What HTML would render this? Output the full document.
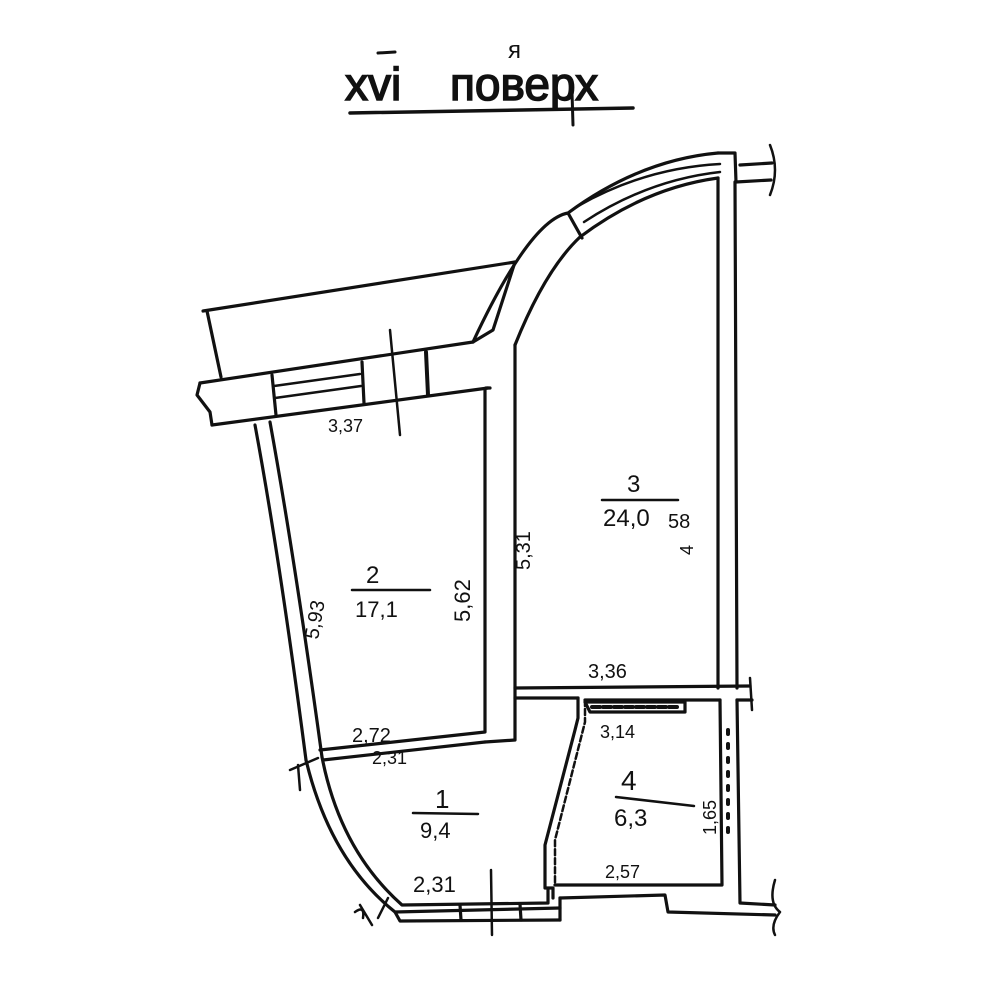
<!DOCTYPE html>
<html><head><meta charset="utf-8"><style>
html,body{margin:0;padding:0;background:#fff;}
svg{display:block}
text{font-family:"Liberation Sans",sans-serif;fill:#111;}
</style></head><body>
<svg width="1000" height="1000" viewBox="0 0 1000 1000" xmlns="http://www.w3.org/2000/svg">
<g fill="none" stroke="#111" stroke-width="3.2" stroke-linecap="round" stroke-linejoin="round">
<!-- title underline -->
<path d="M350 113 L633 108" stroke-width="3.5"/>
<path d="M572 92 L573 125" stroke-width="3"/>
<path d="M378 53 L395 52" stroke-width="3"/>
<!-- balcony -->
<path d="M203 311 L515 262"/>
<path d="M207 311 L221 377"/>
<path d="M515 262 L493 330 L473 342"/>
<!-- wall band -->
<path d="M200 383 L473 342"/>
<path d="M200 383 L197 395 L210 412 L212 425"/>
<path d="M212 425 L488 388"/>
<path d="M272 375 L276 415"/>
<path d="M362 362 L364 403"/>
<path d="M274 386 L360 374 M275 398 L361 386" stroke-width="2.5"/>
<path d="M426 352 L428 395" stroke-width="4"/>
<path d="M390 330 L400 435" stroke-width="2.5"/>
<!-- room2 left wall -->
<path d="M255 425 Q280 560 306 760"/>
<path d="M270 422 Q295 560 322 757"/>
<!-- room2/3 wall -->
<path d="M485 390 L485 732 L320 750"/>
<path d="M485 742 L323 760"/>
<path d="M515 345 L515 740 L485 742"/>
<path d="M486 388 L490 388"/>
<!-- arc wall outer -->
<path d="M473 342 Q530 220 568 213 Q640 160 718 153"/>
<path d="M515 345 Q545 270 580 237 Q645 188 718 178"/>
<path d="M568 213 L582 238"/>
<path d="M578 206 Q645 168 720 164 M584 222 Q648 180 720 172" stroke-width="2.5"/>
<!-- right wall -->
<path d="M718 153 L735 153 L736 182 L771 180"/>
<path d="M740 165 L772 163"/>
<path d="M770 145 Q780 170 770 195" stroke-width="2.5"/>
<path d="M718 178 L718 688"/>
<path d="M735 182 L737 688"/>
<!-- horizontal 3/4 wall -->
<path d="M515 688 L750 686"/>
<path d="M515 698 L578 698 M585 700 L720 700 M737 700 L752 700"/>
<path d="M750 678 L752 710" stroke-width="2.5"/>
<path d="M585 702 L685 702 L685 712 L590 712 Z"/>
<path d="M592 707 H680" stroke-dasharray="8 3" stroke-width="4"/>
<path d="M720 700 L722 885 L555 885"/>
<path d="M737 700 L740 903 L775 905"/>
<path d="M775 880 Q768 903 780 912 Q770 925 775 935" stroke-width="2.5"/>
<!-- room4 left wall -->
<path d="M578 698 L578 718 L575 730 L545 845 L545 888 L553 888 L553 898"/>
<path d="M585 700 L585 722 L555 840 L555 885" stroke-dasharray="6 3" stroke-width="2.5"/>
<!-- room 1 curved wall -->
<path d="M306 760 Q330 860 395 912 L560 908"/>
<path d="M322 757 Q340 850 402 905 L548 903 L548 890"/>
<path d="M560 898 L665 895 L668 912 L775 915"/>
<path d="M395 912 L400 921 L560 920"/>
<path d="M560 920 L560 898"/>
<path d="M460 905 L461 920 M520 904 L521 920"/>
<path d="M491 870 L492 935" stroke-width="2.5"/>
<path d="M360 905 L372 925 M378 918 L388 898" stroke-width="2.5"/>
<path d="M355 912 Q365 905 363 918" stroke-width="2.5"/>
<path d="M290 770 L318 758 M298 765 L300 790" stroke-width="2.5"/>
<!-- dimension ticks on right -->
<path d="M728 730 L728 840" stroke-dasharray="4 10" stroke-width="4"/>
<!-- fraction lines -->
<path d="M602 500 L678 500" stroke-width="2.5"/>
<path d="M352 590 L430 590" stroke-width="2.5"/>
<path d="M413 813 L478 814" stroke-width="2.5"/>
<path d="M616 797 L694 806" stroke-width="2.5"/>
</g>
<g font-size="26">
<text x="345" y="100" font-size="46" stroke="#111" stroke-width="1.5">xvi</text>
<text x="450" y="100" font-size="46" stroke="#111" stroke-width="1.5">поверх</text>
<text x="508" y="58" font-size="24">я</text>
<text x="328" y="432" font-size="18">3,37</text>
<text x="627" y="492" font-size="24">3</text>
<text x="603" y="526" font-size="24">24,0</text>
<text x="668" y="528" font-size="20">58</text>
<text x="366" y="583" font-size="24">2</text>
<text x="355" y="617" font-size="22">17,1</text>
<text x="0" y="0" font-size="22" transform="translate(470,622) rotate(-90)">5,62</text>
<text x="0" y="0" font-size="20" transform="translate(530,570) rotate(-90)">5,31</text>
<text x="0" y="0" font-size="20" transform="translate(318,640) rotate(-80)">5,93</text>
<text x="0" y="0" font-size="18" transform="translate(693,555) rotate(-90)">4</text>
<text x="588" y="678" font-size="20">3,36</text>
<text x="600" y="738" font-size="18">3,14</text>
<text x="352" y="742" font-size="20">2,72</text>
<text x="372" y="764" font-size="18">2,31</text>
<text x="435" y="808" font-size="26">1</text>
<text x="420" y="838" font-size="22">9,4</text>
<text x="621" y="790" font-size="28">4</text>
<text x="614" y="826" font-size="24">6,3</text>
<text x="0" y="0" font-size="18" transform="translate(716,835) rotate(-90)">1,65</text>
<text x="605" y="878" font-size="18">2,57</text>
<text x="413" y="892" font-size="22">2,31</text>
</g>
</svg>
</body></html>
